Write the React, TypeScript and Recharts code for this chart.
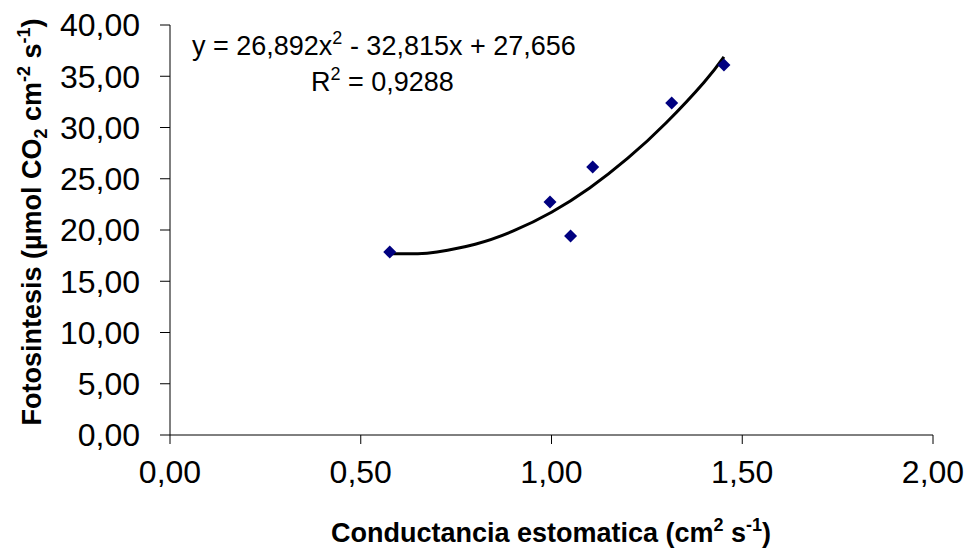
import React from 'react';
import { ComposedChart, Scatter, Line, XAxis, YAxis } from 'recharts';

const conductancia = [0.576, 0.996, 1.05, 1.108, 1.315, 1.452];
const fotosintesis = [17.85, 22.73, 19.41, 26.15, 32.39, 36.1];

const trendX = [0.576, 0.65, 0.7, 0.8, 0.9, 1.0, 1.1, 1.2, 1.3, 1.4, 1.452];
const trendY = [17.677, 17.688, 17.862, 18.615, 19.905, 21.733, 24.098, 27.002, 30.443, 34.423, 36.9];

const xTicks = [0, 0.5, 1, 1.5, 2];
const yTicks = [0, 5, 10, 15, 20, 25, 30, 35, 40];

const equationText = 'y = 26,892x';
const equationRest = ' - 32,815x + 27,656';
const r2Text = ' = 0,9288';

const points = conductancia.map((x, i) => ({ x, y: fotosintesis[i] }));
const trend = trendX.map((x, i) => ({ x, t: trendY[i] }));

const FONT = '"Liberation Sans", Arial, sans-serif';
const fmt = (v: number) => v.toFixed(2).replace('.', ',');

const Diamond = (props: any) => {
  const { cx, cy } = props;
  const r = 6.5;
  return (
    <polygon
      points={`${cx},${cy - r} ${cx + r},${cy} ${cx},${cy + r} ${cx - r},${cy}`}
      fill="#000080"
    />
  );
};

export default function App() {
  return (
    <div style={{ position: 'absolute', left: 0, top: 0, width: 971, height: 548, background: '#fff' }}>
      <ComposedChart
        width={971}
        height={548}
        data={points}
        margin={{ top: 25, right: 38, bottom: 53, left: 0 }}
      >
        <XAxis
          type="number"
          dataKey="x"
          domain={[0, 2]}
          ticks={xTicks}
          allowDataOverflow
          height={60}
          tickSize={9}
          tickMargin={16}
          tickFormatter={fmt}
          axisLine={{ stroke: '#000', strokeWidth: 1 }}
          tickLine={{ stroke: '#000', strokeWidth: 1 }}
          tick={{ fontSize: 32, fill: '#000', fontFamily: FONT }}
        />
        <YAxis
          type="number"
          domain={[0, 40]}
          ticks={yTicks}
          allowDataOverflow
          width={170}
          tickSize={10}
          tickMargin={20}
          tickFormatter={fmt}
          axisLine={{ stroke: '#000', strokeWidth: 1 }}
          tickLine={{ stroke: '#000', strokeWidth: 1 }}
          tick={{ fontSize: 32, fill: '#000', fontFamily: FONT }}
        />
        <Scatter data={points} dataKey="y" shape={<Diamond />} isAnimationActive={false} />
        <Line
          data={trend}
          dataKey="t"
          type="natural"
          stroke="#000"
          strokeWidth={3}
          dot={false}
          activeDot={false}
          isAnimationActive={false}
        />
      </ComposedChart>
      <svg
        width={971}
        height={548}
        style={{ position: 'absolute', left: 0, top: 0, pointerEvents: 'none' }}
        fontFamily={FONT}
      >
        <text x={192} y={55} fontSize={27} fill="#000">
          {equationText}
          <tspan fontSize={18} dy={-11}>2</tspan>
          <tspan dy={11}>{equationRest}</tspan>
        </text>
        <text x={311} y={91} fontSize={27} fill="#000">
          R
          <tspan fontSize={18} dy={-11}>2</tspan>
          <tspan dy={11}>{r2Text}</tspan>
        </text>
        <text x={551} y={542} fontSize={27} fontWeight="bold" fill="#000" textAnchor="middle">
          Conductancia estomatica (cm
          <tspan fontSize={18} dy={-11}>2</tspan>
          <tspan dy={11}> s</tspan>
          <tspan fontSize={18} dy={-11}>-1</tspan>
          <tspan dy={11}>)</tspan>
        </text>
        <g transform="translate(41,222) rotate(-90)">
          <text x={0} y={0} fontSize={27} fontWeight="bold" fill="#000" textAnchor="middle">
            Fotosintesis (µmol CO
            <tspan fontSize={18} dy={6}>2</tspan>
            <tspan dy={-6}> cm</tspan>
            <tspan fontSize={18} dy={-11}>-2</tspan>
            <tspan dy={11}> s</tspan>
            <tspan fontSize={18} dy={-11}>-1</tspan>
            <tspan dy={11}>)</tspan>
          </text>
        </g>
      </svg>
    </div>
  );
}
